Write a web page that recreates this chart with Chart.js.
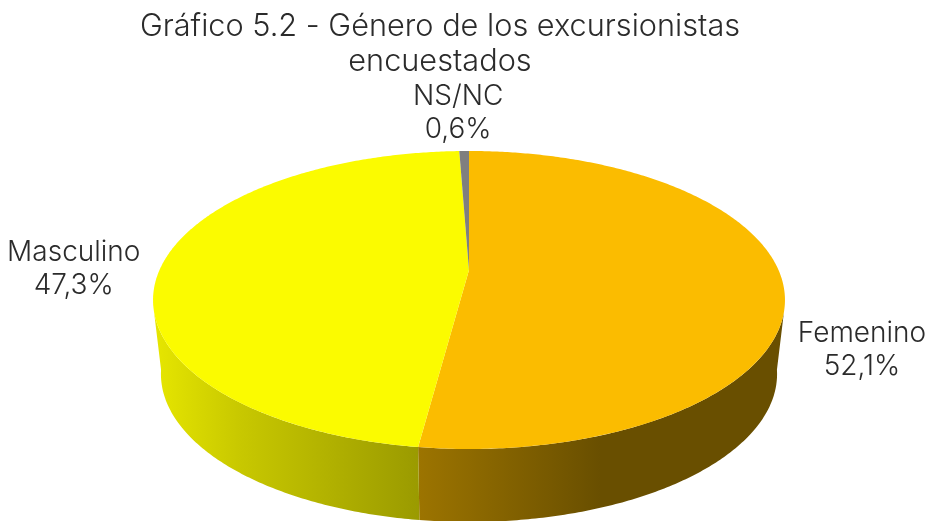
<!DOCTYPE html>
<html lang="es">
<head>
<meta charset="utf-8">
<style>
  html, body { margin: 0; background: #fff; }
  #wrap { width: 930px; height: 521px; }
</style>
<script src="https://cdn.jsdelivr.net/npm/chart.js@4"></script>
</head>
<body>
<div id="wrap"><canvas id="pieChart" width="930" height="521"></canvas></div>
<script>
const categories = ["Femenino", "Masculino", "NS/NC"];
const percentages = [52.1, 47.3, 0.6];
const titleLines = ["Gráfico 5.2 - Género de los excursionistas", "encuestados"];

const FONT = "Inter";
const TEXT_COLOR = "#2b2b2b";
const sliceColors = ["#FBBC00", "#FBFB00", "#7F7F7F"];

// gradient stops for the side wall, one list per slice (x, colour)
const wallStops = [
  [[419, "#9C7400"], [600, "#694F00"], [785, "#694F00"]],
  [[155, "#E6E600"], [240, "#C8C800"], [420, "#9A9A00"]],
  null
];

// where each label sits relative to the rim point at the middle of its slice
const labelOffsets = [[80, 54], [-89, -11], [-6, -54]];

// top face is a tilted disc, so the centre of the wedges is above the middle of the ellipse
const top3d = { cx: 469, cy: 300, a: 309.5, b: 149, c: -30, k: 0.2013 };
const bottom3d = { cx: 469, cy: 374, sx: 0.975, sy: 0.993 };
const WALL_TOP = 106 * Math.PI / 180;    // angle from 12 o'clock where the wall appears
const WALL_BOTTOM = 100 * Math.PI / 180;

function project(theta) {
  const x = Math.sin(theta), y = -Math.cos(theta);
  const d = 1 - top3d.k * y;
  return [top3d.a * x / d, (top3d.b * y + top3d.c) / d];
}
function topPoint(theta) {
  const p = project(theta);
  return [top3d.cx + p[0], top3d.cy + p[1]];
}
function bottomPoint(theta) {
  const p = project(theta);
  return [bottom3d.cx + p[0] * bottom3d.sx, bottom3d.cy + p[1] * bottom3d.sy];
}

function traceRim(ctx, pointAt, from, to, first) {
  const steps = Math.max(2, Math.ceil(Math.abs(to - from) / 0.01));
  for (let i = 0; i <= steps; i++) {
    const p = pointAt(from + (to - from) * i / steps);
    if (i === 0 && first) ctx.moveTo(p[0], p[1]);
    else ctx.lineTo(p[0], p[1]);
  }
}

const pie3d = {
  id: "pie3d",
  beforeDatasetDraw(chart, args) {
    const ctx = chart.ctx;
    const arcs = args.meta.data;
    // chart.js angles start at 3 o'clock, shift them to 12 o'clock
    const spans = arcs.map(a => [a.startAngle + Math.PI / 2, a.endAngle + Math.PI / 2]);

    spans.forEach((s, i) => {
      if (!wallStops[i]) return;
      const last = 2 * Math.PI - WALL_TOP;
      const from = Math.max(s[0], WALL_TOP), to = Math.min(s[1], last);
      if (to <= from) return;
      const grad = ctx.createLinearGradient(wallStops[i][0][0], 0, wallStops[i][2][0], 0);
      const x0 = wallStops[i][0][0], x1 = wallStops[i][2][0];
      wallStops[i].forEach(st => grad.addColorStop((st[0] - x0) / (x1 - x0), st[1]));
      ctx.beginPath();
      traceRim(ctx, topPoint, from, to, true);
      const botFrom = from === WALL_TOP ? WALL_BOTTOM : from;
      const botTo = to === last ? 2 * Math.PI - WALL_BOTTOM : to;
      traceRim(ctx, bottomPoint, botTo, botFrom, false);
      ctx.closePath();
      ctx.fillStyle = grad;
      ctx.fill();
    });

    spans.forEach((s, i) => {
      ctx.beginPath();
      ctx.moveTo(top3d.cx, top3d.cy + top3d.c);
      traceRim(ctx, topPoint, s[0], s[1], false);
      ctx.closePath();
      ctx.fillStyle = arcs[i].options.backgroundColor;
      ctx.fill();
    });

    ctx.fillStyle = TEXT_COLOR;
    ctx.font = "300 28px " + FONT;
    ctx.textAlign = "center";
    ctx.textBaseline = "middle";
    spans.forEach((s, i) => {
      const rim = topPoint((s[0] + s[1]) / 2);
      const x = rim[0] + labelOffsets[i][0], y = rim[1] + labelOffsets[i][1];
      ctx.fillText(categories[i], x, y);
      ctx.fillText(percentages[i].toFixed(1).replace(".", ",") + "%", x, y + 33);
    });
    return false;
  }
};

new Chart(document.getElementById("pieChart"), {
  type: "pie",
  data: {
    labels: categories,
    datasets: [{ data: percentages, backgroundColor: sliceColors, borderWidth: 0 }]
  },
  options: {
    responsive: false,
    animation: false,
    layout: { padding: { right: 50 } },
    plugins: {
      legend: { display: false },
      tooltip: { enabled: false },
      title: {
        display: true,
        text: titleLines,
        color: TEXT_COLOR,
        font: { family: FONT, size: 30.7, weight: "300", lineHeight: 1.14 },
        padding: { top: 9, bottom: 0 }
      }
    }
  },
  plugins: [pie3d]
});
</script>
</body>
</html>
